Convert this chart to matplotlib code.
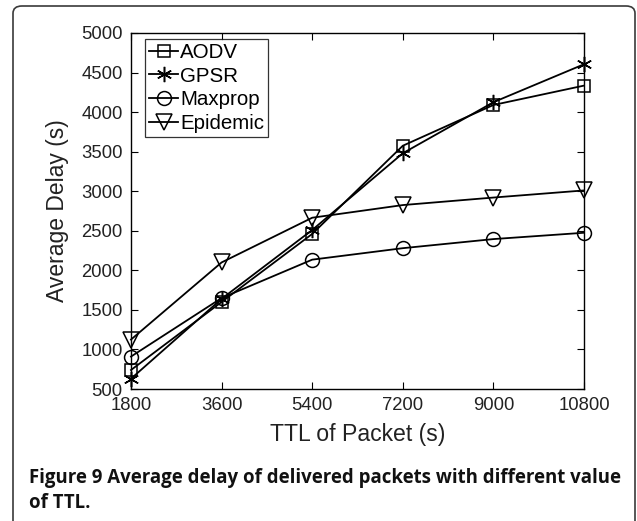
import matplotlib
matplotlib.use("Agg")
import matplotlib.pyplot as plt
from matplotlib.patches import FancyBboxPatch

# TTL values (s) and average delay per routing protocol (s)
ttl = [1800, 3600, 5400, 7200, 9000, 10800]
aodv = [740, 1600, 2460, 3575, 4090, 4335]
gpsr = [630, 1640, 2510, 3480, 4125, 4605]
maxprop = [910, 1650, 2135, 2280, 2395, 2475]
epidemic = [1125, 2100, 2665, 2825, 2920, 3010]

xticks = [1800, 3600, 5400, 7200, 9000, 10800]
yticks = list(range(500, 5001, 500))

plt.rcParams["font.family"] = ["Liberation Sans", "DejaVu Sans"]

W, H = 637, 521
fig = plt.figure(figsize=(W / 100, H / 100), dpi=100)

# Rounded frame around the figure panel (open at the bottom edge)
frame = FancyBboxPatch((13 / W, -20 / H), (635 - 13) / W, (H - 6 + 20) / H,
                       boxstyle="round,pad=0,rounding_size=0.014",
                       transform=fig.transFigure, facecolor="none",
                       edgecolor="#3a3a3a", linewidth=1.2, clip_on=False)
fig.patches.append(frame)

ax = fig.add_axes([131 / W, 1 - 389 / H, (584 - 131) / W, (389 - 33) / H])

ms = dict(color="black", linewidth=1.3, markerfacecolor="none",
          markeredgecolor="black", markeredgewidth=1.1, clip_on=False)
ax.plot(ttl, aodv, marker="s", markersize=8, label="AODV", **ms)
ax.plot(ttl, gpsr, marker=(6, 2, 0), markersize=11, label="GPSR", **ms)
ax.plot(ttl, maxprop, marker="o", markersize=10, label="Maxprop", **ms)
ax.plot(ttl, epidemic, marker="v", markersize=11, label="Epidemic", **ms)

ax.set_xlim(1800, 10800)
ax.set_ylim(500, 5000)
ax.set_xticks(xticks)
ax.set_yticks(yticks)
ax.tick_params(direction="in", top=True, right=True, length=5, width=0.8,
               labelsize=13.3, labelcolor="#222222", pad=6)
for s in ax.spines.values():
    s.set_linewidth(1.0)

ax.set_xlabel("TTL of Packet (s)", fontsize=16.6, labelpad=6, color="#222222")
ax.set_ylabel("Average Delay (s)", fontsize=16.5, labelpad=9, color="#222222")

leg = ax.legend(loc="upper left", bbox_to_anchor=(0.031, 0.983), fontsize=14.8,
                frameon=True, fancybox=False, edgecolor="black",
                handlelength=1.4, handletextpad=0.1, labelspacing=0.22,
                borderpad=0.2, borderaxespad=0)
leg.get_frame().set_linewidth(0.9)

cap_font = dict(fontsize=13.4, fontweight="bold",
                family=["Open Sans", "DejaVu Sans"], va="center", ha="left",
                color="#111111")
fig.text(29 / W, 1 - 478 / H,
         "Figure 9 Average delay of delivered packets with different value",
         **cap_font)
fig.text(29 / W, 1 - 503 / H, "of TTL.", **cap_font)

fig.savefig("out.png", dpi=100)
